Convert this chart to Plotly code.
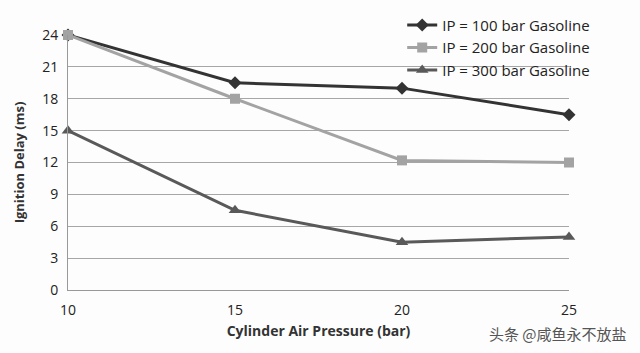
import plotly.graph_objects as go

x_vals = [10, 15, 20, 25]
ip100 = [24, 19.5, 19, 16.5]
ip200 = [24, 18, 12.2, 12]
ip300 = [15, 7.5, 4.5, 5]
names = ["IP = 100 bar Gasoline", "IP = 200 bar Gasoline", "IP = 300 bar Gasoline"]
y_ticks = [0, 3, 6, 9, 12, 15, 18, 21, 24]

fig = go.Figure()
styles = [
    (ip100, "#333333", "diamond", 10),
    (ip200, "#a3a3a3", "square", 10),
    (ip300, "#595959", "triangle-up", 11),
]
for (vals, col, sym, sz), nm in zip(styles, names):
    fig.add_trace(go.Scatter(
        x=x_vals, y=vals, name=nm, mode="lines+markers",
        line=dict(color=col, width=3),
        marker=dict(symbol=sym, size=sz, color=col),
        cliponaxis=False,
    ))

font_fam = "Open Sans, Liberation Sans, sans-serif"
fig.update_layout(
    width=640, height=353,
    margin=dict(l=68, r=71, t=35, b=63, autoexpand=False),
    paper_bgcolor="#fdfdfd", plot_bgcolor="#fdfdfd",
    font=dict(family=font_fam, size=14, color="#222222"),
    showlegend=True,
    legend=dict(x=0.93, xanchor="right", xref="container",
                y=0.975, yanchor="top", yref="container",
                bgcolor="rgba(0,0,0,0)", font=dict(size=15, color="#222222"),
                itemwidth=30, tracegroupgap=0),
    xaxis=dict(range=[10, 25], tickvals=x_vals, showgrid=False,
               showline=True, linecolor="#999999", linewidth=1,
               ticks="outside", ticklen=7, tickcolor="rgba(0,0,0,0)", zeroline=False,
               tickfont=dict(size=14),
               title=dict(text="<b>Cylinder Air Pressure (bar)</b>", font=dict(size=14, color="#333333"), standoff=8)),
    yaxis=dict(range=[0, 24], tickvals=y_ticks, showgrid=True,
               gridcolor="#a6a6a6", gridwidth=1,
               showline=True, linecolor="#999999", linewidth=1,
               ticks="outside", ticklen=6, tickcolor="rgba(0,0,0,0)", zeroline=False,
               tickfont=dict(size=14),
               title=dict(text="<b>Ignition Delay (ms)</b>", font=dict(size=13, color="#333333"), standoff=14)),
)
fig.update_layout(annotations=[dict(text="头条 @咸鱼永不放盐", x=1.12, y=-0.17, xref="paper", yref="paper",
                      xanchor="right", yanchor="middle",
                      showarrow=False, font=dict(size=15, color="#555555",
                      family="Noto Sans CJK SC"))])
fig.write_html("out.html")
